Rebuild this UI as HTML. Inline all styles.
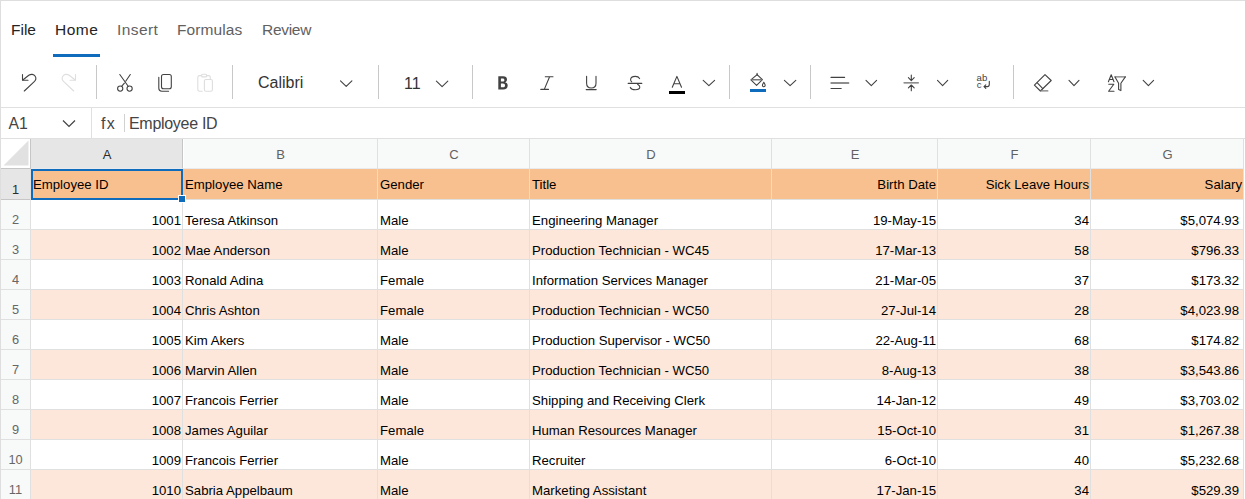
<!DOCTYPE html>
<html><head><meta charset="utf-8"><title>Spreadsheet</title>
<style>
*{box-sizing:border-box;margin:0;padding:0}
html,body{width:1245px;height:499px;overflow:hidden;background:#fff}
body{position:relative;font-family:"Liberation Sans",sans-serif;color:#201f1e}
.a{position:absolute}
.t{position:absolute;white-space:pre;line-height:20px}
.tab{position:absolute;top:19.5px;font-size:15.5px;line-height:20px;white-space:pre}
.sep{position:absolute;top:65px;width:1px;height:34px;background:#c8c8c8}
.ic{position:absolute}
.hl{position:absolute;height:1px;background:#e0e0e0}
.vl{position:absolute;width:1px;background:#e0e0e0}
.cell{position:absolute;font-size:13.2px;white-space:pre;line-height:16px;color:#000}
.ch{position:absolute;top:139px;height:29px;font-size:13px;line-height:16px;text-align:center;color:#616161;padding-top:8px;padding-left:1px}
.rh{position:absolute;left:1px;width:29px;font-size:12.8px;text-align:center;color:#666;line-height:16px}
</style></head><body>

<div class="a" style="left:0;top:0;width:1245px;height:1px;background:#dedede"></div>
<div class="a" style="left:0;top:0;width:1px;height:499px;background:#dedede"></div>
<div class="tab" style="left:11px;color:#242424;letter-spacing:0px">File</div>
<div class="tab" style="left:55px;color:#242424;letter-spacing:0.5px">Home</div>
<div class="tab" style="left:117px;color:#616161;letter-spacing:0.4px">Insert</div>
<div class="tab" style="left:177px;color:#616161;letter-spacing:0.1px">Formulas</div>
<div class="tab" style="left:262px;color:#616161;letter-spacing:-0.3px">Review</div>
<div class="a" style="left:53px;top:54px;width:47px;height:3px;background:#0f6cbd"></div>
<div class="sep" style="left:96px"></div>
<div class="sep" style="left:232px"></div>
<div class="sep" style="left:378px"></div>
<div class="sep" style="left:472px"></div>
<div class="sep" style="left:729px"></div>
<div class="sep" style="left:810px"></div>
<div class="sep" style="left:1013px"></div>
<div class="a" style="left:1px;top:107px;width:1244px;height:1px;background:#e0e0e0"></div>
<svg class="ic" style="left:0;top:0" width="1245" height="108" viewBox="0 0 1245 108">
<g fill="none" stroke="#424242" stroke-width="1.1" stroke-linecap="round" stroke-linejoin="round">
<!-- undo -->
<path d="M22.5 74.5 V80.2 H28"/>
<path d="M22.8 80 L28.8 75.3 C31 73.8 33.8 74 35.2 76.2 C36.3 78 35.8 80.3 34 81.8 L24.3 91"/>
<!-- cut -->
<circle cx="120.2" cy="88.6" r="2.6"/>
<circle cx="129.6" cy="88.6" r="2.6"/>
<path d="M119.8 74.5 L128.2 86.2"/>
<path d="M130.3 74.5 L125.7 81.2"/>
<path d="M124.4 83.1 L121.8 86.2"/>
<!-- copy -->
<rect x="161.5" y="74.5" width="9.8" height="14.3" rx="2"/>
<path d="M158.8 77.2 V88.3 Q158.8 91.2 161.8 91.2 H168.6"/>
<!-- I italic -->
<path d="M545.3 76.7 H553 M540.8 89.4 H548.5 M549.6 76.7 L544.3 89.4"/>
<!-- U -->
<path d="M586.6 76.3 V83.3 C586.6 86.2 588.5 88 591.3 88 C594.1 88 596 86.2 596 83.3 V76.3"/>
<path d="M586.2 89.6 H596.2"/>
<!-- S strike -->
<path d="M639.6 78.6 C638.8 77.1 637.2 76.4 635.3 76.4 C632.6 76.4 630.6 77.8 630.6 79.7 C630.6 80.7 631.1 81.3 631.7 81.8"/>
<path d="M628.2 83.4 H641.8"/>
<path d="M637.6 84.2 C639 85 639.8 85.9 639.8 87.1 C639.8 88.8 637.8 89.8 635.3 89.8 C633 89.8 631.1 89 630.3 87.4"/>
<!-- A font color -->
<path d="M672.3 87.3 L676.9 76.4 L681.5 87.3 M674.4 83.8 H679.4"/>
<!-- fill color -->
<path d="M757.1 73.4 V75.5"/>
<path d="M757.1 74.6 L762.4 79.7 L756.6 85.3 L750.9 79.9 Z"/>
<path d="M751.8 79.7 H761.6" stroke="#7a7a7a" stroke-width="1.4"/>
<path d="M763.8 82.3 C762.8 83.8 762.4 84.8 762.4 85.3 C762.4 86.2 763 86.8 763.8 86.8 C764.6 86.8 765.2 86.2 765.2 85.3 C765.2 84.8 764.8 83.8 763.8 82.3 Z"/>
<!-- align -->
<path d="M831 77.4 H844.6 M831 88.5 H841.2"/>
<path d="M831 83 H848.7" stroke="#6a6a6a" stroke-width="1.3"/>
<!-- valign -->
<path d="M904 82.8 H918.4" stroke="#6a6a6a" stroke-width="1.3"/>
<path d="M911.3 75 V80.5 M908.4 77.7 L911.3 80.6 L914.2 77.7"/>
<path d="M911.3 85 V90.8 M908.4 87.9 L911.3 85 L914.2 87.9"/>
<!-- wrap arrow -->
<path d="M989.3 81.3 V84.6 C989.3 85.8 988.6 86.6 987.4 86.6 H984 M985.8 84.8 L984 86.6 L985.8 88.4"/>
<!-- eraser -->
<path d="M1045 74.6 L1051.2 80.5 L1040.4 91 L1034.4 85.2 Z"/>
<path d="M1037.3 82.8 L1042.8 88.6"/>
<path d="M1040.8 90.9 H1047.8" stroke="#7a7a7a" stroke-width="1.3"/>
<!-- funnel -->
<path d="M1115 76.9 H1125.3" stroke="#7a7a7a" stroke-width="1.4"/>
<path d="M1115 76.9 L1118.6 83.3 V89.6 L1120.9 90.6 V83.3 L1125.3 76.9"/>
<!-- A Z -->
<path d="M1108.4 81.7 L1111.2 74.8 L1114 81.7 M1109.4 79.5 H1113"/>
<path d="M1108.8 84.2 H1113.8 L1108.6 91.3 H1114"/>
<!-- chevrons -->
<path d="M340.5 80.8 L346.2 86.3 L351.9 80.8"/>
<path d="M436.4 81.2 L442.1 86.6 L447.8 81.2"/>
<path d="M703.2 80.3 L708.9 85.6 L714.6 80.3"/>
<path d="M784.4 80.3 L790.1 85.6 L795.8 80.3"/>
<path d="M866 80.3 L871.3 85.6 L876.6 80.3"/>
<path d="M937.5 80.3 L942.6 85.6 L947.7 80.3"/>
<path d="M1069 80.3 L1074 85.6 L1079 80.3"/>
<path d="M1143.2 80.3 L1148.4 85.6 L1153.6 80.3"/>
</g>
<g fill="none" stroke="#dedede" stroke-width="1.1" stroke-linecap="round" stroke-linejoin="round">
<!-- redo disabled -->
<path d="M75.5 74.5 V80.2 H70"/>
<path d="M75.2 80 L69.2 75.3 C67 73.8 64.2 74 62.8 76.2 C61.7 78 62.2 80.3 64 81.8 L73.7 91"/>
<!-- paste disabled -->
<path d="M201.5 75.6 H199.5 Q197.8 75.6 197.8 77.4 V89.6 Q197.8 91.3 199.5 91.3 H202.3"/>
<path d="M206.5 75.6 H208.6 Q210.3 75.6 210.3 77.4 V79.2"/>
<rect x="201.6" y="74.3" width="5" height="2.6" rx="1"/>
<rect x="204.4" y="79.5" width="8" height="11.8" rx="1.5"/>
</g>
<!-- bold B -->
<path d="M498.3 76.3 H503.2 C505.6 76.3 507 77.5 507 79.4 C507 80.8 506.2 81.8 505 82.2 C506.6 82.6 507.7 83.7 507.7 85.4 C507.7 87.8 506 89.4 503.2 89.4 H498.3 Z M500.9 78.4 V81.6 H502.6 C503.8 81.6 504.4 81 504.4 80 C504.4 79 503.8 78.4 502.6 78.4 Z M500.9 83.5 V87.3 H502.9 C504.3 87.3 505 86.6 505 85.4 C505 84.2 504.3 83.5 502.9 83.5 Z" fill="#424242" fill-rule="evenodd"/>
<!-- color bars -->
<rect x="669" y="91" width="16" height="3" fill="#000"/>
<rect x="750" y="89" width="16" height="3" fill="#0f6cbd"/>
<!-- wrap text letters -->
<text x="976.6" y="80.8" font-family="Liberation Sans" font-size="9.6" fill="#424242">ab</text>
<text x="976.8" y="87.6" font-family="Liberation Sans" font-size="9.6" fill="#424242">c</text>
</svg>
<div class="t" style="left:258px;top:73px;font-size:16px;color:#333">Calibri</div>
<div class="t" style="left:404px;top:74px;font-size:16px;color:#333">11</div>

<div class="t" style="left:8.5px;top:114px;font-size:15.8px;color:#444">A1</div>
<svg class="ic" style="left:62px;top:119px" width="14" height="9" viewBox="0 0 14 9"><path d="M1 1.5 L7 7.5 L13 1.5" fill="none" stroke="#424242" stroke-width="1.2"/></svg>
<div class="a" style="left:91px;top:108px;width:1px;height:30px;background:#e0e0e0"></div>
<div class="t" style="left:101px;top:114px;font-size:16px;letter-spacing:1.2px;color:#444">fx</div>
<div class="a" style="left:124px;top:114px;width:1px;height:18px;background:#d1d1d1"></div>
<div class="t" style="left:129px;top:114px;font-size:16px;letter-spacing:-0.3px;color:#444">Employee ID</div>
<div class="a" style="left:1px;top:138px;width:1244px;height:1px;background:#e0e0e0"></div>
<div class="a" style="left:1px;top:139px;width:1242px;height:29px;background:#f8f9f9"></div>
<div class="a" style="left:31px;top:139px;width:151px;height:29px;background:#e6e6e6"></div>
<div class="a" style="left:1px;top:139px;width:29px;height:29px;background:#fff"></div>
<svg class="ic" style="left:0;top:139px" width="31" height="30"><path d="M3.5 26.5 L28.5 1.5 L28.5 26.5 Z" fill="#e1e1e1"/></svg>
<div class="a" style="left:1px;top:169px;width:29px;height:330px;background:#f8f9f9"></div>
<div class="a" style="left:1px;top:169px;width:29px;height:30px;background:#e6e6e6"></div>
<div class="a" style="left:31px;top:169px;width:1212px;height:30px;background:#F9C08F"></div>
<div class="a" style="left:31px;top:230px;width:1212px;height:29px;background:#FCE7DA"></div>
<div class="a" style="left:31px;top:290px;width:1212px;height:29px;background:#FCE7DA"></div>
<div class="a" style="left:31px;top:350px;width:1212px;height:29px;background:#FCE7DA"></div>
<div class="a" style="left:31px;top:410px;width:1212px;height:29px;background:#FCE7DA"></div>
<div class="a" style="left:31px;top:470px;width:1212px;height:29px;background:#FCE7DA"></div>
<div class="hl" style="left:1px;top:168px;width:1242px;background:#e8eaed"></div>
<div class="hl" style="left:1px;top:199px;width:1243px"></div>
<div class="hl" style="left:1px;top:229px;width:1243px"></div>
<div class="hl" style="left:1px;top:259px;width:1243px"></div>
<div class="hl" style="left:1px;top:289px;width:1243px"></div>
<div class="hl" style="left:1px;top:319px;width:1243px"></div>
<div class="hl" style="left:1px;top:349px;width:1243px"></div>
<div class="hl" style="left:1px;top:379px;width:1243px"></div>
<div class="hl" style="left:1px;top:409px;width:1243px"></div>
<div class="hl" style="left:1px;top:439px;width:1243px"></div>
<div class="hl" style="left:1px;top:469px;width:1243px"></div>
<div class="vl" style="left:30px;top:139px;height:360px"></div>
<div class="vl" style="left:182px;top:139px;height:360px"></div>
<div class="vl" style="left:377px;top:139px;height:360px"></div>
<div class="vl" style="left:529px;top:139px;height:360px"></div>
<div class="vl" style="left:771px;top:139px;height:360px"></div>
<div class="vl" style="left:937px;top:139px;height:360px"></div>
<div class="vl" style="left:1090px;top:139px;height:360px"></div>
<div class="vl" style="left:1243px;top:139px;height:360px"></div>
<div class="ch" style="left:31px;width:151px;color:#2b2b2b">A</div>
<div class="ch" style="left:183px;width:194px">B</div>
<div class="ch" style="left:378px;width:151px">C</div>
<div class="ch" style="left:530px;width:241px">D</div>
<div class="ch" style="left:772px;width:165px">E</div>
<div class="ch" style="left:938px;width:152px">F</div>
<div class="ch" style="left:1091px;width:152px">G</div>
<div class="rh" style="top:182px;color:#2b2b2b">1</div>
<div class="rh" style="top:212px">2</div>
<div class="rh" style="top:242px">3</div>
<div class="rh" style="top:272px">4</div>
<div class="rh" style="top:302px">5</div>
<div class="rh" style="top:332px">6</div>
<div class="rh" style="top:362px">7</div>
<div class="rh" style="top:392px">8</div>
<div class="rh" style="top:422px">9</div>
<div class="rh" style="top:452px">10</div>
<div class="rh" style="top:482px">11</div>
<div class="cell" style="left:33px;top:177px">Employee ID</div>
<div class="cell" style="left:185px;top:177px">Employee Name</div>
<div class="cell" style="left:380px;top:177px">Gender</div>
<div class="cell" style="left:532px;top:177px">Title</div>
<div class="cell" style="left:772px;width:164px;top:177px;text-align:right">Birth Date</div>
<div class="cell" style="left:938px;width:151px;top:177px;text-align:right">Sick Leave Hours</div>
<div class="cell" style="left:1091px;width:151px;top:177px;text-align:right">Salary</div>
<div class="cell" style="left:31px;width:150px;top:213px;text-align:right">1001</div>
<div class="cell" style="left:185px;top:213px">Teresa Atkinson</div>
<div class="cell" style="left:380px;top:213px">Male</div>
<div class="cell" style="left:532px;top:213px">Engineering Manager</div>
<div class="cell" style="left:772px;width:164px;top:213px;text-align:right">19-May-15</div>
<div class="cell" style="left:938px;width:151px;top:213px;text-align:right">34</div>
<div class="cell" style="left:1091px;width:148px;top:213px;text-align:right">$5,074.93</div>
<div class="cell" style="left:31px;width:150px;top:243px;text-align:right">1002</div>
<div class="cell" style="left:185px;top:243px">Mae Anderson</div>
<div class="cell" style="left:380px;top:243px">Male</div>
<div class="cell" style="left:532px;top:243px">Production Technician - WC45</div>
<div class="cell" style="left:772px;width:164px;top:243px;text-align:right">17-Mar-13</div>
<div class="cell" style="left:938px;width:151px;top:243px;text-align:right">58</div>
<div class="cell" style="left:1091px;width:148px;top:243px;text-align:right">$796.33</div>
<div class="cell" style="left:31px;width:150px;top:273px;text-align:right">1003</div>
<div class="cell" style="left:185px;top:273px">Ronald Adina</div>
<div class="cell" style="left:380px;top:273px">Female</div>
<div class="cell" style="left:532px;top:273px">Information Services Manager</div>
<div class="cell" style="left:772px;width:164px;top:273px;text-align:right">21-Mar-05</div>
<div class="cell" style="left:938px;width:151px;top:273px;text-align:right">37</div>
<div class="cell" style="left:1091px;width:148px;top:273px;text-align:right">$173.32</div>
<div class="cell" style="left:31px;width:150px;top:303px;text-align:right">1004</div>
<div class="cell" style="left:185px;top:303px">Chris Ashton</div>
<div class="cell" style="left:380px;top:303px">Female</div>
<div class="cell" style="left:532px;top:303px">Production Technician - WC50</div>
<div class="cell" style="left:772px;width:164px;top:303px;text-align:right">27-Jul-14</div>
<div class="cell" style="left:938px;width:151px;top:303px;text-align:right">28</div>
<div class="cell" style="left:1091px;width:148px;top:303px;text-align:right">$4,023.98</div>
<div class="cell" style="left:31px;width:150px;top:333px;text-align:right">1005</div>
<div class="cell" style="left:185px;top:333px">Kim Akers</div>
<div class="cell" style="left:380px;top:333px">Male</div>
<div class="cell" style="left:532px;top:333px">Production Supervisor - WC50</div>
<div class="cell" style="left:772px;width:164px;top:333px;text-align:right">22-Aug-11</div>
<div class="cell" style="left:938px;width:151px;top:333px;text-align:right">68</div>
<div class="cell" style="left:1091px;width:148px;top:333px;text-align:right">$174.82</div>
<div class="cell" style="left:31px;width:150px;top:363px;text-align:right">1006</div>
<div class="cell" style="left:185px;top:363px">Marvin Allen</div>
<div class="cell" style="left:380px;top:363px">Male</div>
<div class="cell" style="left:532px;top:363px">Production Technician - WC50</div>
<div class="cell" style="left:772px;width:164px;top:363px;text-align:right">8-Aug-13</div>
<div class="cell" style="left:938px;width:151px;top:363px;text-align:right">38</div>
<div class="cell" style="left:1091px;width:148px;top:363px;text-align:right">$3,543.86</div>
<div class="cell" style="left:31px;width:150px;top:393px;text-align:right">1007</div>
<div class="cell" style="left:185px;top:393px">Francois Ferrier</div>
<div class="cell" style="left:380px;top:393px">Male</div>
<div class="cell" style="left:532px;top:393px">Shipping and Receiving Clerk</div>
<div class="cell" style="left:772px;width:164px;top:393px;text-align:right">14-Jan-12</div>
<div class="cell" style="left:938px;width:151px;top:393px;text-align:right">49</div>
<div class="cell" style="left:1091px;width:148px;top:393px;text-align:right">$3,703.02</div>
<div class="cell" style="left:31px;width:150px;top:423px;text-align:right">1008</div>
<div class="cell" style="left:185px;top:423px">James Aguilar</div>
<div class="cell" style="left:380px;top:423px">Female</div>
<div class="cell" style="left:532px;top:423px">Human Resources Manager</div>
<div class="cell" style="left:772px;width:164px;top:423px;text-align:right">15-Oct-10</div>
<div class="cell" style="left:938px;width:151px;top:423px;text-align:right">31</div>
<div class="cell" style="left:1091px;width:148px;top:423px;text-align:right">$1,267.38</div>
<div class="cell" style="left:31px;width:150px;top:453px;text-align:right">1009</div>
<div class="cell" style="left:185px;top:453px">Francois Ferrier</div>
<div class="cell" style="left:380px;top:453px">Male</div>
<div class="cell" style="left:532px;top:453px">Recruiter</div>
<div class="cell" style="left:772px;width:164px;top:453px;text-align:right">6-Oct-10</div>
<div class="cell" style="left:938px;width:151px;top:453px;text-align:right">40</div>
<div class="cell" style="left:1091px;width:148px;top:453px;text-align:right">$5,232.68</div>
<div class="cell" style="left:31px;width:150px;top:483px;text-align:right">1010</div>
<div class="cell" style="left:185px;top:483px">Sabria Appelbaum</div>
<div class="cell" style="left:380px;top:483px">Male</div>
<div class="cell" style="left:532px;top:483px">Marketing Assistant</div>
<div class="cell" style="left:772px;width:164px;top:483px;text-align:right">17-Jan-15</div>
<div class="cell" style="left:938px;width:151px;top:483px;text-align:right">34</div>
<div class="cell" style="left:1091px;width:148px;top:483px;text-align:right">$529.39</div>
<div class="a" style="left:31px;top:169px;width:152px;height:31px;border:2px solid #0f6cbd"></div>
<div class="a" style="left:178px;top:195px;width:8px;height:8px;background:#0f6cbd;border:1px solid #fff"></div>
<div class="a" style="left:1px;top:168px;width:30px;height:1px;background:#c6c6c6"></div>
<div class="a" style="left:30px;top:139px;width:1px;height:30px;background:#c6c6c6"></div>
<div class="a" style="left:1px;top:199px;width:29px;height:1px;background:#c6c6c6"></div>
<div class="a" style="left:182px;top:139px;width:1px;height:29px;background:#c6c6c6"></div>
<div class="a" style="left:183px;top:139px;width:1px;height:29px;background:#fff"></div>
</body></html>
